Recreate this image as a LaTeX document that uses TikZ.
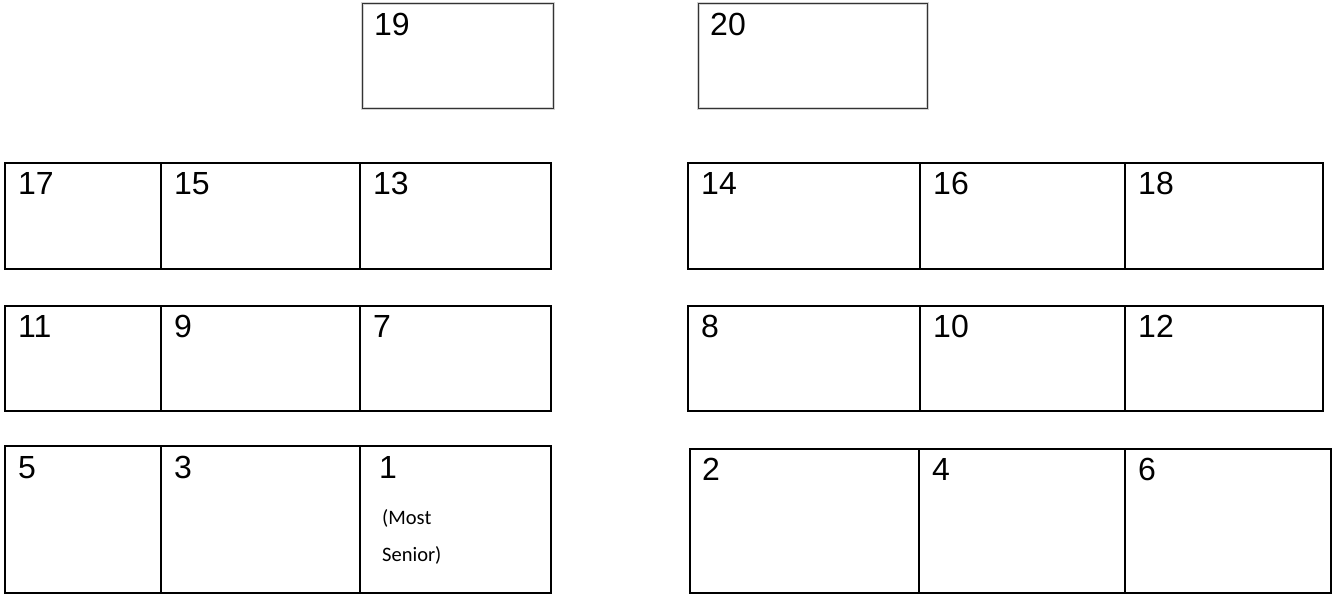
\documentclass[tikz,border=0pt]{standalone}
\usepackage{fontspec}
\setmainfont{Liberation Sans}
\newfontfamily\calibrifont{Carlito}
\begin{document}
\begin{tikzpicture}[x=1pt,y=-1pt,
  seat/.style={draw=black,line width=2pt},
  topseat/.style={draw=black!80,line width=1pt},
  num/.style={anchor=north west,inner sep=0pt,font=\fontsize{32}{34}\selectfont},
  note/.style={anchor=north west,inner sep=0pt,align=left,font=\calibrifont\fontsize{20.5}{37}\selectfont}]
\useasboundingbox (0,0) rectangle (1333,596);
% top boxes (thin, with a light halo)
\foreach \a/\b in {362/553,698/927}{
  \draw[gray!35,line width=3pt] (\a,3.5) rectangle (\b,109);
}
\draw[topseat] (362,3.5) rectangle (553,109);
\draw[topseat] (698,3.5) rectangle (927,109);
\node[num] (t19) at (374,13) {19};
\node[num] (t20) at (710,13) {20};
% left rows
\draw[seat] (5,163) rectangle (551,269);
\draw[seat] (161,163) -- (161,269) (360,163) -- (360,269);
\draw[seat] (5,306) rectangle (551,411);
\draw[seat] (161,306) -- (161,411) (360,306) -- (360,411);
\draw[seat] (5,446) rectangle (551,593);
\draw[seat] (161,446) -- (161,593) (360,446) -- (360,593);
% right rows
\draw[seat] (688,163) rectangle (1323,269);
\draw[seat] (920,163) -- (920,269) (1125,163) -- (1125,269);
\draw[seat] (688,306) rectangle (1323,411);
\draw[seat] (920,306) -- (920,411) (1125,306) -- (1125,411);
\draw[seat] (690,449) rectangle (1331,593);
\draw[seat] (919,449) -- (919,593) (1125,449) -- (1125,593);
% labels
\node[num] (n17) at (18,172) {17};
\node[num] (n15) at (174,172) {15};
\node[num] (n13) at (373,172) {13};
\node[num] (n14) at (701,172) {14};
\node[num] (n16) at (933,172) {16};
\node[num] (n18) at (1138,172) {18};
\node[num] (n11) at (18,315) {11};
\node[num] (n9) at (174,315) {9};
\node[num] (n7) at (373,315) {7};
\node[num] (n8) at (701,315) {8};
\node[num] (n10) at (933,315) {10};
\node[num] (n12) at (1138,315) {12};
\node[num] (n5) at (18,456) {5};
\node[num] (n3) at (174,456) {3};
\node[num] (n1) at (379,456) {1};
\node[note] (ms) at (382,509) {(Most\\Senior)};
\node[num] (n2) at (702,458) {2};
\node[num] (n4) at (932,458) {4};
\node[num] (n6) at (1138,458) {6};
\end{tikzpicture}
\end{document}
